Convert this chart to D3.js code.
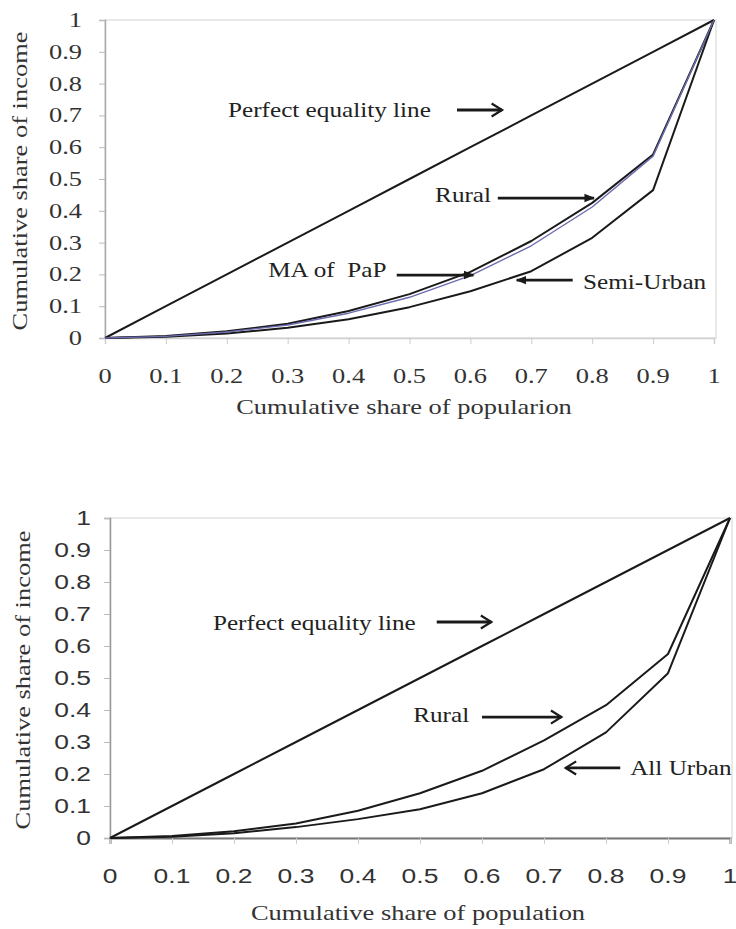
<!DOCTYPE html>
<html>
<head>
<meta charset="utf-8">
<script src="https://cdn.jsdelivr.net/npm/d3@7"></script>
<style>
  html, body { margin: 0; padding: 0; background: #fff; }
  svg { display: block; }
  text { white-space: pre; }
</style>
</head>
<body>
<svg id="chart" width="736" height="929"></svg>
<script>
// ---------------- DATA ----------------
const popShare      = [0, 0.1, 0.2, 0.3, 0.4, 0.5, 0.6, 0.7, 0.8, 0.9, 1];
const equalityLine  = [0, 0.1, 0.2, 0.3, 0.4, 0.5, 0.6, 0.7, 0.8, 0.9, 1];
// Top chart
const ruralTop      = [0, 0.006, 0.021, 0.045, 0.085, 0.138, 0.208, 0.305, 0.425, 0.577, 1];
const maPaPTop      = [0, 0.005, 0.019, 0.041, 0.078, 0.128, 0.196, 0.29, 0.412, 0.572, 1];
const semiUrbanTop  = [0, 0.004, 0.014, 0.032, 0.059, 0.097, 0.147, 0.21, 0.315, 0.465, 1];
// Bottom chart
const ruralBottom   = [0, 0.006, 0.021, 0.045, 0.085, 0.14, 0.21, 0.305, 0.415, 0.575, 1];
const allUrbanBottom= [0, 0.004, 0.015, 0.034, 0.059, 0.09, 0.14, 0.215, 0.33, 0.515, 1];
// Ticks
const tickValues    = [0, 0.1, 0.2, 0.3, 0.4, 0.5, 0.6, 0.7, 0.8, 0.9, 1];
const tickLabels    = ["0", "0.1", "0.2", "0.3", "0.4", "0.5", "0.6", "0.7", "0.8", "0.9", "1"];

const SERIF = "'Liberation Serif', 'Times New Roman', serif";
const SANS  = "'Liberation Sans', Arial, sans-serif";
const SX = 1.26; // horizontal stretch of the reference text

const svg = d3.select("#chart");

function stretchedText(g, x, y, str, opts) {
  return g.append("text")
    .attr("transform", `translate(${x},${y}) scale(${opts.sx || SX},1)`)
    .attr("font-family", opts.font || SERIF)
    .attr("font-size", opts.size || 20)
    .attr("text-anchor", opts.anchor || "start")
    .attr("fill", opts.fill || "#222")
    .text(str);
}

function arrow(g, x1, y1, x2, y2, id) {
  g.append("line")
    .attr("x1", x1).attr("y1", y1).attr("x2", x2).attr("y2", y2)
    .attr("stroke", "#1a1a1a").attr("stroke-width", 2.8)
    .attr("marker-end", `url(#${id})`);
}

const defs = svg.append("defs");
defs.append("marker")
  .attr("id", "chev").attr("viewBox", "0 0 12 12")
  .attr("refX", 10).attr("refY", 6)
  .attr("markerWidth", 5.6).attr("markerHeight", 5.6)
  .attr("markerUnits", "strokeWidth")
  .attr("orient", "auto")
  .append("path").attr("d", "M2,1 L10,6 L2,11")
  .attr("fill", "none").attr("stroke", "#1a1a1a").attr("stroke-width", 1.7)
  .attr("stroke-linejoin", "miter");
defs.append("marker")
  .attr("id", "tri").attr("viewBox", "0 0 10 10")
  .attr("refX", 9).attr("refY", 5)
  .attr("markerWidth", 3.8).attr("markerHeight", 3.8)
  .attr("markerUnits", "strokeWidth")
  .attr("orient", "auto")
  .append("path").attr("d", "M0,1 L10,5 L0,9 Z")
  .attr("fill", "#1a1a1a");

function drawChart(cfg) {
  const g = svg.append("g");
  const x = d3.scaleLinear().domain([0, 1]).range([cfg.left, cfg.right]);
  const y = d3.scaleLinear().domain([0, 1]).range([cfg.bottom, cfg.top]);

  // frame
  g.append("rect")
    .attr("x", cfg.left).attr("y", cfg.top)
    .attr("width", cfg.right + 2 - cfg.left).attr("height", cfg.bottom - cfg.top)
    .attr("fill", "none").attr("stroke", "#e2e2e2").attr("stroke-width", 1.5);

  // y axis
  const yAxis = g.append("g").attr("transform", `translate(${cfg.left},0)`)
    .call(d3.axisLeft(y).tickValues(tickValues).tickSize(6).tickFormat(""));
  yAxis.select(".domain").attr("stroke", cfg.yAxisColor).attr("stroke-width", 1.5);
  yAxis.selectAll(".tick line").attr("stroke", "#bbb");

  // x axis
  const xAxis = g.append("g").attr("transform", `translate(0,${cfg.bottom})`)
    .call(d3.axisBottom(x).tickValues(tickValues).tickSize(6).tickFormat(""));
  xAxis.select(".domain").attr("stroke", cfg.xAxisColor).attr("stroke-width", cfg.xAxisWidth);
  xAxis.selectAll(".tick line").attr("stroke", "#ccc");

  // tick labels
  tickValues.forEach((v, i) => {
    stretchedText(g, cfg.yLabelRight, y(v) + 7, tickLabels[i],
      { font: cfg.tickFont, size: cfg.tickSize, anchor: "end", fill: "#333" });
    stretchedText(g, x(v), cfg.xLabelBase, tickLabels[i],
      { font: cfg.tickFont, size: cfg.tickSize, anchor: "middle", fill: "#333" });
  });

  // axis titles
  stretchedText(g, cfg.xTitleX, cfg.xTitleY, cfg.xTitle, { size: 21, anchor: "middle", fill: "#333" });
  g.append("text")
    .attr("transform", `translate(${cfg.yTitleX},${cfg.yTitleY}) rotate(-90) scale(${SX},1)`)
    .attr("font-family", SERIF).attr("font-size", 21)
    .attr("text-anchor", "middle").attr("fill", "#333")
    .text(cfg.yTitle);

  // lines
  const line = d3.line().x((d, i) => x(popShare[i])).y(d => y(d));
  cfg.series.forEach(s => {
    g.append("path").datum(s.values)
      .attr("d", line)
      .attr("fill", "none")
      .attr("stroke", s.color)
      .attr("stroke-width", s.width)
      .attr("stroke-linejoin", "round");
  });

  // annotations
  cfg.notes.forEach(n => {
    stretchedText(g, x(n.tx), y(n.ty), n.text, { size: 20, anchor: "start" });
    arrow(g, x(n.a1), y(n.ay), x(n.a2), y(n.ay), n.head);
  });
}

drawChart({
  left: 105, right: 714, top: 20, bottom: 338,
  yAxisColor: "#aaa", xAxisColor: "#d0d0d0", xAxisWidth: 1.5,
  tickFont: SERIF, tickSize: 21,
  yLabelRight: 82, xLabelBase: 383,
  xTitle: "Cumulative share of popularion", xTitleX: 404, xTitleY: 414,
  yTitle: "Cumulative share of income", yTitleX: 27, yTitleY: 181,
  series: [
    { values: equalityLine, color: "#1a1a1a", width: 2 },
    { values: semiUrbanTop, color: "#1a1a1a", width: 2 },
    { values: ruralTop, color: "#1a1a1a", width: 2 },
    { values: maPaPTop, color: "#6b6bb0", width: 1.4 }
  ],
  notes: [
    { text: "Perfect equality line", tx: 0.202, ty: 0.695, a1: 0.578, a2: 0.652, ay: 0.717, head: "chev" },
    { text: "Rural", tx: 0.542, ty: 0.428, a1: 0.645, a2: 0.803, ay: 0.44, head: "tri" },
    { text: "MA of  PaP", tx: 0.268, ty: 0.192, a1: 0.479, a2: 0.605, ay: 0.198, head: "tri" },
    { text: "Semi-Urban", tx: 0.785, ty: 0.154, a1: 0.768, a2: 0.676, ay: 0.182, head: "tri" }
  ]
});

drawChart({
  left: 110, right: 730, top: 518, bottom: 838,
  yAxisColor: "#999", xAxisColor: "#777", xAxisWidth: 2,
  tickFont: SANS, tickSize: 21,
  yLabelRight: 91, xLabelBase: 883,
  xTitle: "Cumulative share of population", xTitleX: 418, xTitleY: 920,
  yTitle: "Cumulative share of income", yTitleX: 30, yTitleY: 680,
  series: [
    { values: equalityLine, color: "#1a1a1a", width: 2 },
    { values: allUrbanBottom, color: "#1a1a1a", width: 2 },
    { values: ruralBottom, color: "#1a1a1a", width: 2 }
  ],
  notes: [
    { text: "Perfect equality line", tx: 0.166, ty: 0.65, a1: 0.527, a2: 0.615, ay: 0.675, head: "chev" },
    { text: "Rural", tx: 0.489, ty: 0.3625, a1: 0.6, a2: 0.728, ay: 0.378, head: "chev" },
    { text: "All Urban", tx: 0.839, ty: 0.197, a1: 0.823, a2: 0.735, ay: 0.219, head: "chev" }
  ]
});
</script>
</body>
</html>
